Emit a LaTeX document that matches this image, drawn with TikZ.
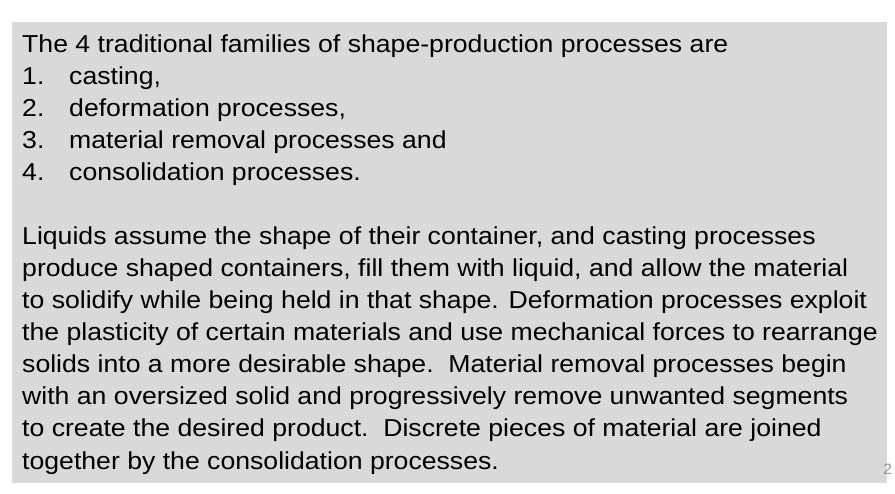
\documentclass[tikz,border=0pt]{standalone}
\usepackage{fontspec}
\setmainfont{Liberation Sans}[FakeStretch=1.087]
\usetikzlibrary{positioning}
\definecolor{slidegrey}{RGB}{217,217,217}
\definecolor{pagegrey}{RGB}{150,150,150}
\tikzset{%
	% Specifications for style of nodes:
	line/.style = {anchor=base west, inner sep=0pt, font=\fontsize{24.5}{32}\selectfont},
	num/.style = {line},
	pageno/.style = {anchor=base west, inner sep=0pt, text=pagegrey, font=\fontsize{15}{18}\selectfont}
}
\begin{document}
\begin{tikzpicture}[x=1pt,y=-1pt]
	\useasboundingbox (0,0) rectangle (895,494);
	\fill[slidegrey] (12,22) rectangle (887,483);
	% Specification of nodes (position, etc.)
	
	\node (intro)	[line] at (22,53)	{The 4 traditional families of shape-production processes are};
	\node (n1)		[num] at (22,85)	{1.};
	\node (i1)		[line] at (69,85)	{casting,};
	\node (n2)		[num] at (22,117)	{2.};
	\node (i2)		[line] at (69,117)	{deformation processes,};
	\node (n3)		[num] at (22,149)	{3.};
	\node (i3)		[line] at (69,149)	{material removal processes and};
	\node (n4)		[num] at (22,181)	{4.};
	\node (i4)		[line] at (69,181)	{consolidation processes.};
	
	\node (p1)		[line] at (22,245)	{Liquids assume the shape of their container, and casting processes};
	\node (p2)		[line] at (22,277)	{produce shaped containers, fill them with liquid, and allow the material};
	\node (p3)		[line] at (22,309)	{to solidify while being held in that shape. Deformation processes exploit};
	\node (p4)		[line] at (22,341)	{the plasticity of certain materials and use mechanical forces to rearrange};
	\node (p5)		[line] at (22,373)	{solids into a more desirable shape.\ \ Material removal processes begin};
	\node (p6)		[line] at (22,405)	{with an oversized solid and progressively remove unwanted segments};
	\node (p7)		[line] at (22,437)	{to create the desired product.\ \ Discrete pieces of material are joined};
	\node (p8)		[line] at (22,469)	{together by the consolidation processes.};
	
	\node (page)	[pageno] at (883,475)	{2};
\end{tikzpicture}
\end{document}
